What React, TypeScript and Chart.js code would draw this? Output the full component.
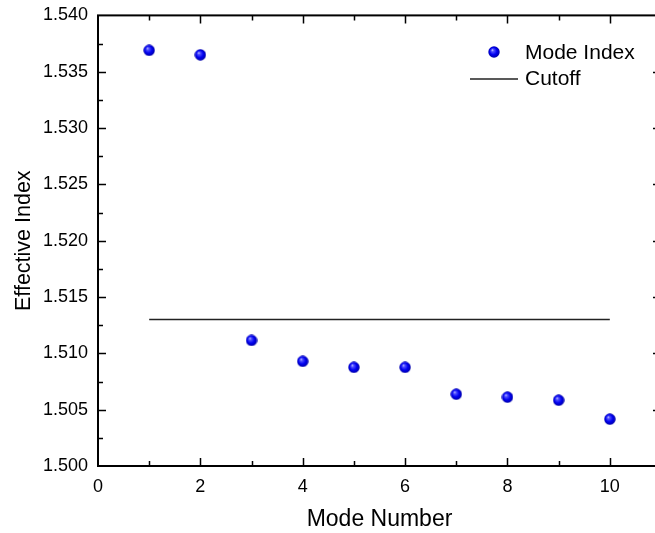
import React, { useEffect, useRef } from "react";
import { Chart, registerables } from "chart.js";

Chart.register(...registerables);

const modeNumbers = [1, 2, 3, 4, 5, 6, 7, 8, 9, 10];
const modeIndex = [1.5369, 1.5365, 1.51115, 1.50929, 1.50876, 1.50876, 1.50637, 1.50611, 1.50584, 1.50416];
const cutoffX = [1, 10];
const cutoffY = [1.513, 1.513];
const xTickValues = [0, 2, 4, 6, 8, 10];
const xMinorValues = [1, 3, 5, 7, 9];
const yTickValues = [1.5, 1.505, 1.51, 1.515, 1.52, 1.525, 1.53, 1.535, 1.54];
const yMinorValues = [1.5025, 1.5075, 1.5125, 1.5175, 1.5225, 1.5275, 1.5325, 1.5375];

const FONT = "'Liberation Sans', Arial, Helvetica, sans-serif";

function makeSphere(size: number): HTMLCanvasElement {
  const c = document.createElement("canvas");
  c.width = size;
  c.height = size;
  const g = c.getContext("2d")!;
  const r = size / 2;
  const grad = g.createRadialGradient(r * 0.7, r * 0.65, 0, r, r, r);
  grad.addColorStop(0, "#d8d8ff");
  grad.addColorStop(0.22, "#5050ff");
  grad.addColorStop(0.6, "#0000f0");
  grad.addColorStop(1, "#0000a0");
  g.fillStyle = grad;
  g.beginPath();
  g.arc(r, r, r - 0.3, 0, Math.PI * 2);
  g.fill();
  return c;
}

export default function App() {
  const ref = useRef<HTMLCanvasElement | null>(null);

  useEffect(() => {
    if (!ref.current) return;
    const sphere = makeSphere(12);

    const framePlugin = {
      id: "frame",
      afterDatasetsDraw(chart: any) {
        const { ctx, chartArea: a, scales } = chart;
        const xs = scales.x;
        const ys = scales.y;
        ctx.save();
        ctx.strokeStyle = "#000";
        ctx.lineWidth = 2;
        ctx.strokeRect(a.left, a.top, a.right - a.left, a.bottom - a.top);
        ctx.lineWidth = 1.5;
        const major = 8;
        const minor = 5;
        ctx.beginPath();
        const xt = (vals: number[], len: number) => {
          vals.forEach((v) => {
            const px = Math.round(xs.getPixelForValue(v)) + 0.5;
            ctx.moveTo(px, a.bottom);
            ctx.lineTo(px, a.bottom - len);
            ctx.moveTo(px, a.top);
            ctx.lineTo(px, a.top + len);
          });
        };
        const yt = (vals: number[], len: number) => {
          vals.forEach((v) => {
            const py = Math.round(ys.getPixelForValue(v)) + 0.5;
            ctx.moveTo(a.left, py);
            ctx.lineTo(a.left + len, py);
            ctx.moveTo(a.right, py);
            ctx.lineTo(a.right - len, py);
          });
        };
        xt(xTickValues.filter((v) => v > 0), major);
        xt(xMinorValues, minor);
        yt(yTickValues.filter((v, i) => i > 0 && i < yTickValues.length - 1), major);
        yt(yMinorValues, minor);
        ctx.stroke();

        // legend
        const ds = chart.data.datasets;
        ctx.fillStyle = "#000";
        ctx.font = `21px ${FONT}`;
        ctx.textBaseline = "middle";
        ctx.textAlign = "left";
        ctx.drawImage(sphere, 494 - 6, 52 - 6, 12, 12);
        ctx.fillText(ds[0].label, 525, 53);
        ctx.strokeStyle = "#222";
        ctx.lineWidth = 1.5;
        ctx.beginPath();
        ctx.moveTo(470, 79);
        ctx.lineTo(518, 79);
        ctx.stroke();
        ctx.fillText(ds[1].label, 525, 79);
        ctx.restore();
      },
    };

    const chart = new Chart(ref.current, {
      type: "scatter",
      data: {
        datasets: [
          {
            label: "Mode Index",
            data: modeNumbers.map((x, i) => ({ x, y: modeIndex[i] })),
            pointStyle: sphere as any,
            pointRadius: 6,
            showLine: false,
            order: 1,
          },
          {
            label: "Cutoff",
            type: "line" as any,
            data: cutoffX.map((x, i) => ({ x, y: cutoffY[i] })),
            borderColor: "#222",
            borderWidth: 1.5,
            pointRadius: 0,
            showLine: true,
            fill: false,
            order: 2,
          },
        ],
      },
      options: {
        responsive: false,
        animation: false,
        devicePixelRatio: 1,
        layout: { padding: { top: 14, right: 4, left: 0, bottom: 0 } },
        plugins: { legend: { display: false }, tooltip: { enabled: false } },
        scales: {
          x: {
            type: "linear",
            min: 0,
            max: 11,
            grid: { display: false, drawTicks: false },
            border: { display: false },
            afterBuildTicks: (s: any) => {
              s.ticks = xTickValues.map((value) => ({ value }));
            },
            afterFit: (s: any) => {
              s.height = 67;
            },
            ticks: {
              padding: 10,
              color: "#000",
              font: { family: FONT, size: 18 },
              maxRotation: 0,
              callback: (v: any) => String(v),
            },
            title: {
              display: true,
              text: "Mode Number",
              color: "#000",
              font: { family: FONT, size: 23 },
              padding: { top: 0, bottom: 0 },
            },
          },
          y: {
            type: "linear",
            min: 1.5,
            max: 1.54,
            grid: { display: false, drawTicks: false },
            border: { display: false },
            afterBuildTicks: (s: any) => {
              s.ticks = yTickValues.map((value) => ({ value }));
            },
            afterFit: (s: any) => {
              s.width = 98;
            },
            ticks: {
              padding: 10,
              color: "#000",
              font: { family: FONT, size: 18, lineHeight: 0.6 },
              callback: (v: any) => Number(v).toFixed(3),
            },
            title: {
              display: true,
              text: "Effective Index",
              color: "#000",
              font: { family: FONT, size: 21.5 },
              padding: { top: 11, bottom: 0 },
            },
          },
        },
      },
      plugins: [framePlugin],
    });
    return () => chart.destroy();
  }, []);

  return (
    <div
      style={{
        position: "fixed",
        left: 0,
        top: 0,
        width: 655,
        height: 533,
        overflow: "hidden",
        background: "#fff",
      }}
    >
      <canvas ref={ref} width={668} height={533} style={{ display: "block" }} />
    </div>
  );
}
